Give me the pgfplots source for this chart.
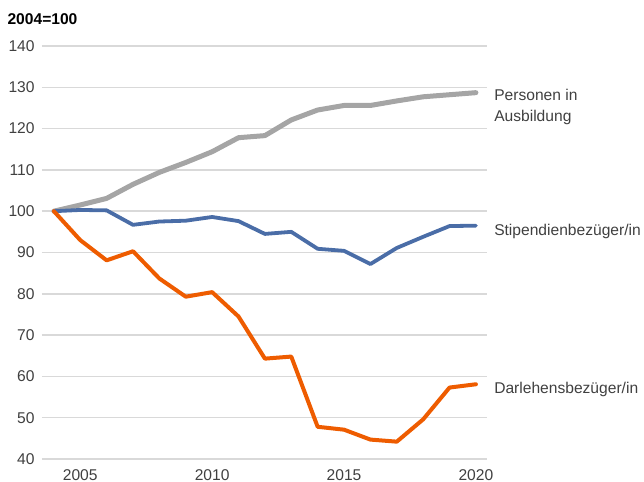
\documentclass[border=0pt]{standalone}
\usepackage{fontspec}
\setmainfont{Liberation Sans}
\usepackage{pgfplots}
\pgfplotsset{compat=1.18}

\definecolor{cgrey}{HTML}{A5A5A5}
\definecolor{cblue}{HTML}{4A6DA7}
\definecolor{corange}{HTML}{EE5C00}
\definecolor{gridc}{HTML}{D9D9D9}
\definecolor{labc}{HTML}{404040}

\begin{document}
\begin{tikzpicture}[font=\fontsize{7.8bp}{9.4bp}\selectfont]
\begin{axis}[
    name=ax,
    scale only axis,
    width=222.5bp, height=206.5bp,
    xmin=2003.55, xmax=2020.42,
    ymin=40, ymax=140,
    xtick={2005,2010,2015,2020},
    ytick={40,50,...,140},
    major tick length=0pt,
    axis line style={draw=none},
    ymajorgrids,
    grid style={draw=gridc, line width=0.75bp},
    tick label style={text=labc, inner sep=0pt},
    yticklabel style={xshift=-3.5bp},
    xticklabel style={yshift=-5bp},
    /pgf/number format/assume math mode=true,
    /pgf/number format/1000 sep={},
    clip=false,
    every axis plot/.append style={line join=round, line cap=round, no markers}
]
% Personen in Ausbildung
\addplot[cgrey, line width=2.5bp] coordinates {
  (2004,100) (2005,101.5) (2006,103.1) (2007,106.5) (2008,109.4) (2009,111.8)
  (2010,114.4) (2011,117.8) (2012,118.3) (2013,122.1) (2014,124.5) (2015,125.6)
  (2016,125.6) (2017,126.7) (2018,127.7) (2019,128.2) (2020,128.7)};
% Stipendienbezueger/in
\addplot[cblue, line width=1.9bp] coordinates {
  (2004,100) (2005,100.3) (2006,100.2) (2007,96.7) (2008,97.5) (2009,97.7)
  (2010,98.6) (2011,97.6) (2012,94.5) (2013,95.0) (2014,90.9) (2015,90.4)
  (2016,87.2) (2017,91.1) (2018,93.8) (2019,96.4) (2020,96.5)};
% Darlehensbezueger/in
\addplot[corange, line width=2bp] coordinates {
  (2004,100) (2005,93.0) (2006,88.1) (2007,90.3) (2008,83.7) (2009,79.3)
  (2010,80.4) (2011,74.5) (2012,64.3) (2013,64.8) (2014,47.8) (2015,47.1)
  (2016,44.7) (2017,44.2) (2018,49.6) (2019,57.3) (2020,58.1)};

\node[anchor=base west, inner sep=0pt, font=\fontsize{7.8bp}{9.4bp}\selectfont\bfseries]
  at (axis cs:2002.23,145.1) {2004=100};
\node[anchor=base west, inner sep=0pt, text=labc] at (axis cs:2020.68,126.74) {Personen in};
\node[anchor=base west, inner sep=0pt, text=labc] at (axis cs:2020.68,121.8) {Ausbildung};
\node[anchor=base west, inner sep=0pt, text=labc] at (axis cs:2020.68,94.18) {Stipendienbezüger/in};
\node[anchor=base west, inner sep=0pt, text=labc] at (axis cs:2020.68,55.88) {Darlehensbezüger/in};
\end{axis}
\pgfresetboundingbox
\path[use as bounding box] ([xshift=-21bp,yshift=-11.5bp]ax.south west)
  rectangle ([xshift=301bp,yshift=229.5bp]ax.south west);
\end{tikzpicture}
\end{document}
